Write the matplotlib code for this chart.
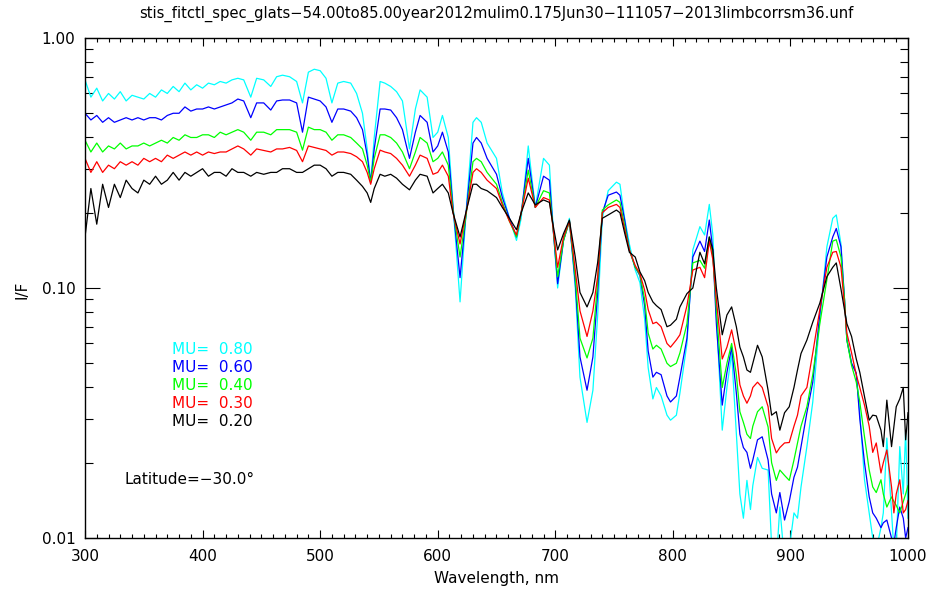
import matplotlib
matplotlib.use('Agg')
import matplotlib.pyplot as plt
from matplotlib.ticker import LogLocator, MultipleLocator, NullFormatter

# ---------------- data ----------------
wavelength = [
    300, 305, 310, 315, 320, 325, 330, 335, 340, 345,
    350, 355, 360, 365, 370, 375, 380, 385, 390, 395,
    400, 405, 410, 415, 420, 425, 430, 435, 441, 446,
    452, 458, 463, 468, 474, 480, 485, 490, 495, 500,
    505, 510, 515, 520, 526, 531, 536, 540, 543, 546,
    551, 555, 560, 565, 570, 576, 581, 585, 591, 596,
    600, 604, 609, 613, 619, 625, 630, 633, 637, 642,
    650, 655, 661, 667, 671, 677, 683, 690, 695, 698,
    702, 707, 712, 717, 721, 727, 732, 736, 740, 745,
    752, 755, 759, 763, 768, 772, 776, 779, 783, 786,
    790, 795, 798, 803, 806, 812, 817, 823, 827, 831,
    834, 837, 842, 846, 850, 854, 857, 860, 863, 866,
    868, 872, 876, 881, 884, 888, 891, 895, 899, 903,
    906, 909, 914, 919, 925, 931, 936, 939, 943, 946,
    948, 952, 956, 959, 963, 967, 970, 973, 977, 979,
    982, 986, 988, 990, 993, 996, 998, 1000]

mu080 = [
    0.68, 0.58, 0.63, 0.56, 0.60, 0.57, 0.61, 0.56, 0.59, 0.58,
    0.57, 0.60, 0.58, 0.62, 0.60, 0.64, 0.61, 0.66, 0.62, 0.65,
    0.63, 0.66, 0.65, 0.67, 0.66, 0.68, 0.69, 0.68, 0.58, 0.69,
    0.68, 0.64, 0.70, 0.71, 0.70, 0.67, 0.55, 0.73, 0.75, 0.74,
    0.69, 0.55, 0.66, 0.67, 0.66, 0.60, 0.50, 0.36, 0.265, 0.40,
    0.67, 0.66, 0.64, 0.61, 0.56, 0.36, 0.52, 0.62, 0.58, 0.40,
    0.42, 0.49, 0.40, 0.215, 0.088, 0.23, 0.46, 0.48, 0.46, 0.38,
    0.33, 0.24, 0.19, 0.155, 0.19, 0.37, 0.21, 0.33, 0.31, 0.18,
    0.100, 0.155, 0.19, 0.10, 0.044, 0.029, 0.039, 0.077, 0.19, 0.245,
    0.265, 0.26, 0.19, 0.15, 0.118, 0.105, 0.075, 0.048, 0.036, 0.040,
    0.037, 0.031, 0.0296, 0.031, 0.038, 0.060, 0.142, 0.176, 0.163, 0.216,
    0.163, 0.077, 0.027, 0.040, 0.055, 0.026, 0.015, 0.012, 0.017, 0.013,
    0.0162, 0.021, 0.019, 0.0187, 0.0093, 0.008, 0.0133, 0.008, 0.009, 0.0126,
    0.012, 0.016, 0.0232, 0.035, 0.075, 0.146, 0.19, 0.196, 0.15, 0.09,
    0.062, 0.05, 0.0456, 0.0317, 0.0171, 0.0126, 0.010, 0.009, 0.011, 0.0126,
    0.0251, 0.0126, 0.009, 0.009, 0.0232, 0.015, 0.027, 0.012]

mu060 = [
    0.50, 0.47, 0.49, 0.46, 0.48, 0.46, 0.47, 0.48, 0.47, 0.48,
    0.47, 0.48, 0.48, 0.47, 0.49, 0.50, 0.50, 0.53, 0.51, 0.52,
    0.52, 0.53, 0.52, 0.53, 0.54, 0.55, 0.57, 0.56, 0.48, 0.55,
    0.55, 0.515, 0.56, 0.565, 0.565, 0.55, 0.42, 0.58, 0.57, 0.56,
    0.53, 0.46, 0.52, 0.52, 0.51, 0.48, 0.43, 0.34, 0.265, 0.36,
    0.52, 0.52, 0.515, 0.48, 0.43, 0.33, 0.42, 0.49, 0.46, 0.35,
    0.37, 0.42, 0.35, 0.21, 0.11, 0.22, 0.38, 0.40, 0.38, 0.33,
    0.285, 0.23, 0.19, 0.16, 0.20, 0.33, 0.21, 0.28, 0.27, 0.176,
    0.104, 0.155, 0.185, 0.105, 0.053, 0.039, 0.053, 0.095, 0.20, 0.235,
    0.242, 0.235, 0.187, 0.142, 0.121, 0.112, 0.085, 0.056, 0.044, 0.046,
    0.045, 0.037, 0.035, 0.037, 0.044, 0.063, 0.133, 0.154, 0.14, 0.187,
    0.142, 0.072, 0.034, 0.046, 0.058, 0.038, 0.026, 0.023, 0.022, 0.019,
    0.0205, 0.0247, 0.0254, 0.0205, 0.015, 0.0126, 0.0152, 0.0118, 0.0140, 0.0175,
    0.0192, 0.0232, 0.0317, 0.042, 0.079, 0.133, 0.16, 0.173, 0.146, 0.09,
    0.062, 0.05, 0.0456, 0.030, 0.020, 0.0146, 0.0126, 0.012, 0.011, 0.0115,
    0.0118, 0.010, 0.0095, 0.011, 0.0133, 0.012, 0.010, 0.011]

mu040 = [
    0.39, 0.35, 0.38, 0.35, 0.37, 0.36, 0.38, 0.36, 0.37, 0.37,
    0.38, 0.37, 0.38, 0.39, 0.38, 0.40, 0.39, 0.41, 0.40, 0.40,
    0.41, 0.41, 0.40, 0.42, 0.41, 0.42, 0.43, 0.42, 0.39, 0.42,
    0.42, 0.41, 0.43, 0.43, 0.43, 0.42, 0.356, 0.44, 0.43, 0.43,
    0.42, 0.39, 0.41, 0.41, 0.40, 0.38, 0.36, 0.31, 0.265, 0.33,
    0.41, 0.41, 0.40, 0.38, 0.35, 0.30, 0.35, 0.40, 0.38, 0.32,
    0.33, 0.35, 0.31, 0.205, 0.133, 0.21, 0.32, 0.33, 0.32, 0.29,
    0.26, 0.22, 0.185, 0.16, 0.20, 0.296, 0.21, 0.245, 0.24, 0.176,
    0.111, 0.155, 0.185, 0.11, 0.063, 0.0525, 0.063, 0.105, 0.205, 0.215,
    0.225, 0.22, 0.178, 0.142, 0.121, 0.113, 0.09, 0.066, 0.057, 0.059,
    0.057, 0.050, 0.0485, 0.050, 0.055, 0.072, 0.126, 0.129, 0.12, 0.16,
    0.135, 0.082, 0.040, 0.050, 0.060, 0.045, 0.032, 0.029, 0.026, 0.025,
    0.028, 0.032, 0.0335, 0.0278, 0.020, 0.017, 0.0187, 0.0178, 0.0170, 0.0205,
    0.024, 0.028, 0.0335, 0.045, 0.072, 0.108, 0.154, 0.156, 0.133, 0.09,
    0.062, 0.049, 0.042, 0.035, 0.0254, 0.0187, 0.016, 0.0152, 0.0171, 0.015,
    0.0133, 0.0146, 0.014, 0.0135, 0.0126, 0.014, 0.015, 0.0162]

mu030 = [
    0.33, 0.29, 0.32, 0.29, 0.31, 0.30, 0.32, 0.31, 0.32, 0.31,
    0.33, 0.32, 0.33, 0.32, 0.34, 0.33, 0.34, 0.35, 0.34, 0.35,
    0.34, 0.35, 0.345, 0.35, 0.35, 0.36, 0.37, 0.36, 0.34, 0.36,
    0.355, 0.35, 0.36, 0.36, 0.365, 0.355, 0.32, 0.37, 0.365, 0.36,
    0.355, 0.34, 0.35, 0.35, 0.345, 0.335, 0.32, 0.29, 0.26, 0.30,
    0.356, 0.35, 0.345, 0.33, 0.31, 0.28, 0.31, 0.34, 0.33, 0.285,
    0.29, 0.31, 0.28, 0.20, 0.15, 0.21, 0.29, 0.30, 0.29, 0.27,
    0.25, 0.215, 0.185, 0.163, 0.20, 0.275, 0.21, 0.23, 0.225, 0.176,
    0.121, 0.16, 0.185, 0.118, 0.081, 0.064, 0.081, 0.111, 0.20, 0.21,
    0.216, 0.21, 0.172, 0.142, 0.123, 0.114, 0.098, 0.082, 0.072, 0.073,
    0.070, 0.060, 0.058, 0.062, 0.065, 0.085, 0.118, 0.121, 0.11, 0.154,
    0.13, 0.09, 0.052, 0.058, 0.068, 0.055, 0.041, 0.037, 0.0346, 0.037,
    0.040, 0.042, 0.040, 0.0335, 0.025, 0.0219, 0.023, 0.024, 0.0241, 0.028,
    0.031, 0.037, 0.040, 0.055, 0.082, 0.121, 0.139, 0.14, 0.121, 0.085,
    0.066, 0.055, 0.045, 0.040, 0.034, 0.028, 0.022, 0.024, 0.0182, 0.020,
    0.0225, 0.016, 0.0126, 0.015, 0.0171, 0.0126, 0.013, 0.0141]

mu020 = [
    0.16, 0.25, 0.18, 0.26, 0.21, 0.26, 0.23, 0.27, 0.25, 0.24,
    0.27, 0.26, 0.28, 0.26, 0.27, 0.29, 0.27, 0.29, 0.28, 0.29,
    0.30, 0.28, 0.29, 0.29, 0.28, 0.30, 0.29, 0.29, 0.28, 0.29,
    0.285, 0.29, 0.29, 0.30, 0.30, 0.29, 0.29, 0.30, 0.31, 0.31,
    0.30, 0.28, 0.29, 0.29, 0.285, 0.27, 0.255, 0.24, 0.22, 0.25,
    0.285, 0.28, 0.285, 0.275, 0.26, 0.247, 0.27, 0.285, 0.28, 0.24,
    0.25, 0.26, 0.24, 0.20, 0.16, 0.21, 0.26, 0.26, 0.25, 0.245,
    0.23, 0.21, 0.19, 0.171, 0.20, 0.24, 0.215, 0.225, 0.22, 0.18,
    0.142, 0.165, 0.187, 0.133, 0.096, 0.084, 0.096, 0.126, 0.19, 0.196,
    0.205, 0.20, 0.166, 0.139, 0.133, 0.116, 0.107, 0.096, 0.088, 0.085,
    0.082, 0.070, 0.071, 0.075, 0.084, 0.095, 0.10, 0.139, 0.125, 0.16,
    0.142, 0.10, 0.065, 0.078, 0.084, 0.07, 0.058, 0.053, 0.047, 0.046,
    0.050, 0.059, 0.053, 0.039, 0.031, 0.032, 0.027, 0.0317, 0.0335, 0.040,
    0.047, 0.0547, 0.0619, 0.073, 0.087, 0.111, 0.121, 0.126, 0.099, 0.082,
    0.072, 0.064, 0.052, 0.046, 0.0368, 0.0296, 0.031, 0.0308, 0.027, 0.0232,
    0.0356, 0.0232, 0.028, 0.0335, 0.036, 0.040, 0.0247, 0.0317]

series_labels = ['MU=  0.80', 'MU=  0.60', 'MU=  0.40', 'MU=  0.30', 'MU=  0.20']
series_colors = ['#00ffff', '#0000ff', '#00ff00', '#ff0000', '#000000']
y_tick_values = [0.01, 0.1, 1.0]
y_tick_labels = ['0.01', '0.10', '1.00']
x_tick_values = [300, 400, 500, 600, 700, 800, 900, 1000]
title_text = 'stis_fitctl_spec_glats\u221254.00to85.00year2012mulim0.175Jun30\u2212111057\u22122013limbcorrsm36.unf'
latitude_text = 'Latitude=\u221230.0\u00b0'

# ---------------- figure ----------------
W, H = 931, 589
fig = plt.figure(figsize=(W / 100, H / 100), dpi=100)
fig.patch.set_facecolor('white')
L, R, T, B = 85, 908, 38, 538
ax = fig.add_axes([L / W, 1 - B / H, (R - L) / W, (B - T) / H])

all_series = [mu080, mu060, mu040, mu030, mu020]
for vals, col in zip(all_series, series_colors):
    ax.plot(wavelength, vals, color=col, lw=0.9)

ax.set_yscale('log')
ax.set_xlim(300, 1000)
ax.set_ylim(0.01, 1.0)
ax.set_yticks(y_tick_values)
ax.set_yticklabels(y_tick_labels)
ax.yaxis.set_minor_locator(LogLocator(base=10, subs=range(2, 10)))
ax.yaxis.set_minor_formatter(NullFormatter())
ax.set_xticks(x_tick_values)
ax.set_xticklabels([str(v) for v in x_tick_values])
ax.xaxis.set_minor_locator(MultipleLocator(10))

fs = 11
ax.tick_params(axis='both', which='both', direction='in', top=True, right=True,
               color='black', width=0.8, labelsize=fs)
ax.tick_params(axis='x', which='major', length=6, pad=8)
ax.tick_params(axis='x', which='minor', length=3)
ax.tick_params(axis='y', which='major', length=11, pad=7)
ax.tick_params(axis='y', which='minor', length=6)
for s in ax.spines.values():
    s.set_linewidth(1.0)

# texts
fig.text((L + R) / 2 / W, 1 - 14 / H, title_text, ha='center', va='center', fontsize=10.6)
fig.text(22 / W, 1 - 290 / H, 'I/F', rotation=90, ha='center', va='center', fontsize=fs)
fig.text((L + R) / 2 / W, 1 - 578 / H, 'Wavelength, nm', ha='center', va='center', fontsize=fs)

x0 = (172 - L) / (R - L)
for i, (lab, col) in enumerate(zip(series_labels, series_colors)):
    y = (B - (349 + 18 * i)) / (B - T)
    ax.text(x0, y, lab, color=col, transform=ax.transAxes, ha='left', va='center', fontsize=fs)
ax.text((124 - L) / (R - L), (B - 480) / (B - T), latitude_text, transform=ax.transAxes,
        ha='left', va='center', fontsize=fs)

fig.savefig('out.png', dpi=100, facecolor='white')
